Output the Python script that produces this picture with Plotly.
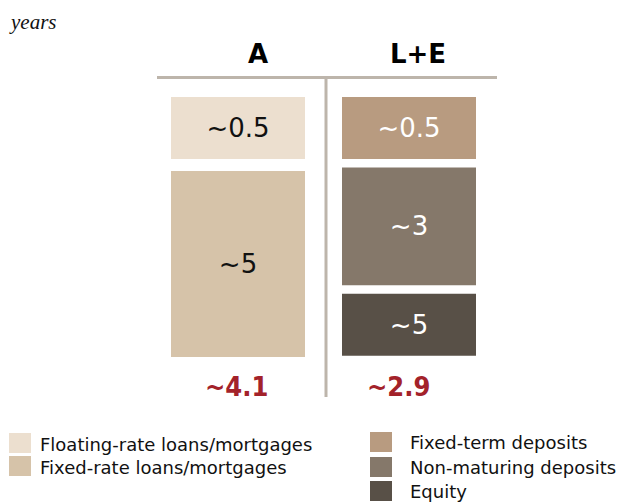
import plotly.graph_objects as go

# ---- data ----
sides = ["A", "L+E"]
side_totals = ["~4.1", "~2.9"]

asset_items = ["Floating-rate loans/mortgages", "Fixed-rate loans/mortgages"]
asset_share = [10, 30]          # relative box heights
asset_duration = ["~0.5", "~5"]

liab_items = ["Fixed-term deposits", "Non-maturing deposits", "Equity"]
liab_share = [10, 19, 10]
liab_duration = ["~0.5", "~3", "~5"]

# ---- styles ----
asset_colors = ["#ecdfcf", "#d6c3a9"]
asset_text_colors = ["#111111", "#111111"]
liab_colors = ["#b89b80", "#85786a", "#585047"]
liab_text_colors = ["#ffffff", "#ffffff", "#ffffff"]

OFF = 8                      # page body margin
W, H = 631 - OFF, 503 - OFF  # figure size
PX_X = 171.0                 # px per x unit
X0 = 238.0 - OFF             # px of x=0
PX_Y = 6.2                   # px per y unit
Y0 = 97.0 - OFF              # px of y=0
BAR_W = 134 / PX_X
GAP_A = 12 / PX_Y
GAP_L = 8.5 / PX_Y


def px(p):
    return (p - OFF) / W


def py(p):
    return 1 - (p - OFF) / H


fig = go.Figure()


def add_column(xpos, items, shares, labels, colors, tcolors, gap):
    base = 0.0
    for name, s, lab, c, tc in zip(items, shares, labels, colors, tcolors):
        fig.add_trace(go.Bar(
            x=[xpos], y=[s], base=[base], width=BAR_W, name=name,
            marker=dict(color=c, line=dict(width=0)),
            text=[lab], textposition="inside", insidetextanchor="middle",
            textangle=0, constraintext="none",
            textfont=dict(family="DejaVu Sans", size=26, color=tc),
            showlegend=False, hoverinfo="name",
        ))
        base += s + gap


add_column(0, asset_items, asset_share, asset_duration, asset_colors, asset_text_colors, GAP_A)
add_column(1, liab_items, liab_share, liab_duration, liab_colors, liab_text_colors, GAP_L)

shapes = []
line_col = "#bdb5ab"
# T-account lines
shapes.append(dict(type="line", xref="paper", yref="paper",
                   x0=px(157), x1=px(497), y0=py(77.5), y1=py(77.5),
                   line=dict(color=line_col, width=3)))
shapes.append(dict(type="line", xref="paper", yref="paper",
                   x0=px(326), x1=px(326), y0=py(76), y1=py(397),
                   line=dict(color=line_col, width=3)))

annotations = []
annotations.append(dict(text="<i>years</i>", xref="paper", yref="paper",
                        x=px(7), y=py(8), xanchor="left", yanchor="top",
                        showarrow=False,
                        font=dict(family="Liberation Serif", size=21, color="#111111")))
header_shift = [19.5, 9]
total_shift = [-1.5, -11]
for i, (s, t) in enumerate(zip(sides, side_totals)):
    annotations.append(dict(text="<b>%s</b>" % s, x=i, xref="x", yref="paper",
                            y=py(54), xshift=header_shift[i], yanchor="middle", showarrow=False,
                            font=dict(family="DejaVu Sans", size=26, color="#000000")))
    annotations.append(dict(text="<b>%s</b>" % t, x=i, xref="x", yref="paper",
                            y=py(386), xshift=total_shift[i], yanchor="middle",
                            showarrow=False,
                            font=dict(family="DejaVu Sans Condensed", size=27, color="#a3222a")))

# legend (two columns, drawn as swatches + text)
leg_font = dict(family="DejaVu Sans", size=18, color="#111111")
left_rows = [443, 466]
right_rows = [442, 467, 491]
for name, c, yc in zip(asset_items, asset_colors, left_rows):
    shapes.append(dict(type="rect", xref="paper", yref="paper",
                       x0=px(9), x1=px(31), y0=py(yc - 10), y1=py(yc + 10),
                       fillcolor=c, line=dict(width=0)))
    annotations.append(dict(text=name, xref="paper", yref="paper", x=px(38), y=py(yc + 1),
                            xanchor="left", yanchor="middle", showarrow=False, font=leg_font))
for name, c, yc in zip(liab_items, liab_colors, right_rows):
    shapes.append(dict(type="rect", xref="paper", yref="paper",
                       x0=px(370), x1=px(392), y0=py(yc - 10), y1=py(yc + 10),
                       fillcolor=c, line=dict(width=0)))
    annotations.append(dict(text=name, xref="paper", yref="paper", x=px(408), y=py(yc),
                            xanchor="left", yanchor="middle", showarrow=False, font=leg_font))

fig.update_layout(
    width=W, height=H, margin=dict(l=0, r=0, t=0, b=0),
    paper_bgcolor="white", plot_bgcolor="white",
    barmode="overlay",
    xaxis=dict(range=[-X0 / PX_X, (W - X0) / PX_X], visible=False, fixedrange=True),
    yaxis=dict(range=[(H - Y0) / PX_Y, -Y0 / PX_Y], visible=False, fixedrange=True),
    shapes=shapes, annotations=annotations,
    showlegend=False,
)

fig.write_html("out.html")
